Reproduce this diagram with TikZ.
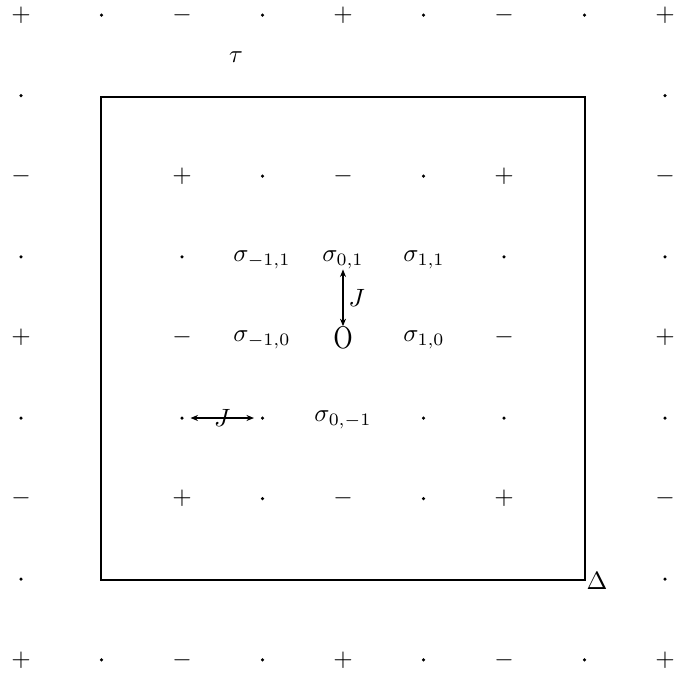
\documentclass[tikz,border=0pt]{standalone}
\usetikzlibrary{arrows.meta,calc}
\newcommand{\mkpt}[2]{%
  \pgfmathtruncatemacro\mkodd{mod(#1,2)+mod(#2,2)}%
  \pgfmathtruncatemacro\mksgn{mod(#1+#2,4)}%
  \ifnum\mkodd>0
    \node[dotmk] (g-#1-#2) at ({21+80.5*#1},{15+80.6*#2}) {};
  \else\ifnum\mksgn=0
    \node[mk] (g-#1-#2) at ({21+80.5*#1},{15+80.6*#2}) {$+$};
  \else
    \node[mk] (g-#1-#2) at ({21+80.5*#1},{15+80.6*#2}) {$-$};
  \fi\fi}
\begin{document}
\begin{tikzpicture}[x=0.4pt,y=-0.4pt,
  mk/.style={inner sep=0pt},
  dotmk/.style={circle,fill,inner sep=0pt,minimum size=1.4pt},
  lbl/.style={inner sep=0pt},
  arr/.style={line width=0.5pt,{Stealth[length=3pt,width=2.4pt]}-{Stealth[length=3pt,width=2.4pt]}}]
\useasboundingbox (0,0) rectangle (675,681);
% outer ring
\foreach \i in {0,...,8} {\mkpt{\i}{0}\mkpt{\i}{8}}
\foreach \j in {1,...,7} {\mkpt{0}{\j}\mkpt{8}{\j}}
% inner
\foreach \i in {2,...,6} {\mkpt{\i}{2}\mkpt{\i}{6}}
\foreach \j in {3,4} {\mkpt{2}{\j}\mkpt{6}{\j}}
\foreach \i in {2,3,5,6} {\mkpt{\i}{5}}
% box
\coordinate (tl) at (101,97);
\coordinate (br) at (585,580);
\draw[line width=0.8pt] (tl) rectangle (br);
% labels
\node[lbl] (tau) at (236,57) {$\tau$};
\node[lbl,anchor=north west] (delta) at (586,572) {$\Delta$};
\node[lbl] (sm11) at (262,260) {$\sigma_{-1,1}$};
\node[lbl] (s01) at (343,260) {$\sigma_{0,1}$};
\node[lbl] (s11) at (424,260) {$\sigma_{1,1}$};
\node[lbl] (sm10) at (262,340) {$\sigma_{-1,0}$};
\node[lbl] (o) at (343,338) {\scalebox{1}[1.25]{O}};
\node[lbl] (s10) at (424,340) {$\sigma_{1,0}$};
\node[lbl] (s0m1) at (343,420) {$\sigma_{0,-1}$};
% couplings
\draw[arr] (s01.south -| o.north) -- node[right,inner sep=2pt] (jv) {$J$} (o.north);
\draw[arr,shorten <=2.5pt,shorten >=2.5pt] (g-2-5.east) -- node[lbl] (jh) {$J$} (g-3-5.west);
\end{tikzpicture}
\end{document}
